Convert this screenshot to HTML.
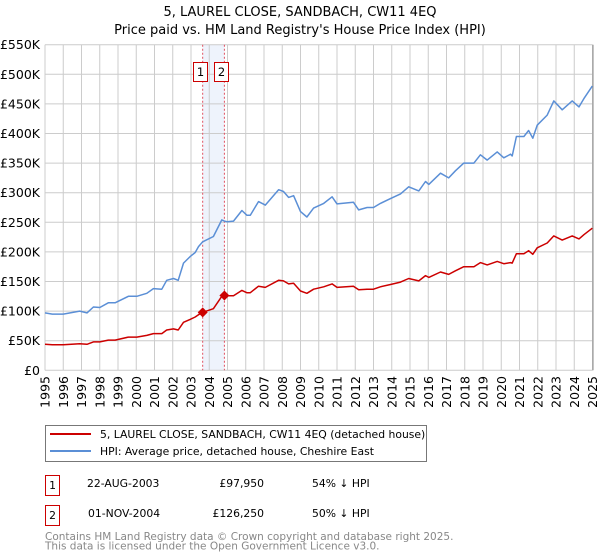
<!DOCTYPE html>
<html><head><meta charset="utf-8"><style>
body{margin:0;background:#fff;}
svg{display:block;font-family:"DejaVu Sans","Liberation Sans",sans-serif;}
</style></head><body>
<svg id="chart" width="600" height="560" viewBox="0 0 600 560">
<text x="300" y="16" text-anchor="middle" font-size="13">5, LAUREL CLOSE, SANDBACH, CW11 4EQ</text>
<text x="300" y="34" text-anchor="middle" font-size="13">Price paid vs. HM Land Registry's House Price Index (HPI)</text>
<g id="grid"></g>
<g id="marks"></g>
<g id="axes"></g>
<g>
<rect x="45.5" y="425.5" width="381" height="36" fill="#fff" stroke="#777"/>
<line x1="50" y1="434" x2="91" y2="434" stroke="#cc0000" stroke-width="2"/>
<text x="100" y="438" font-size="10.8">5, LAUREL CLOSE, SANDBACH, CW11 4EQ (detached house)</text>
<line x1="50" y1="451" x2="91" y2="451" stroke="#5b8fd6" stroke-width="2"/>
<text x="100" y="455" font-size="10.8">HPI: Average price, detached house, Cheshire East</text>
</g>
<g font-size="10.8">
<rect x="45.5" y="475.5" width="14" height="20" fill="#fff" stroke="#cc0000"/>
<text x="52.5" y="489" text-anchor="middle">1</text>
<text x="87" y="487">22-AUG-2003</text>
<text x="264" y="487" text-anchor="end">£97,950</text>
<text x="312" y="487">54% ↓ HPI</text>
<rect x="45.5" y="505.5" width="14" height="20" fill="#fff" stroke="#cc0000"/>
<text x="52.5" y="519" text-anchor="middle">2</text>
<text x="88" y="517">01-NOV-2004</text>
<text x="264" y="517" text-anchor="end">£126,250</text>
<text x="312" y="517">50% ↓ HPI</text>
</g>
<text x="45" y="540" font-size="10.5" fill="#888">Contains HM Land Registry data © Crown copyright and database right 2025.</text>
<text x="45" y="549.5" font-size="10.5" fill="#888">This data is licensed under the Open Government Licence v3.0.</text>
</svg>
<script>
const dates=[1995.0,1995.4,1996.0,1996.9,1997.3,1997.65,1998.0,1998.47,1998.84,1999.57,2000.03,2000.58,2000.94,2001.4,2001.67,2002.04,2002.3,2002.59,2002.95,2003.23,2003.41,2003.64,2004.23,2004.69,2004.83,2004.97,2005.33,2005.79,2006.06,2006.25,2006.7,2007.07,2007.8,2008.07,2008.35,2008.62,2009.0,2009.35,2009.72,2010.27,2010.73,2011.0,2011.9,2012.19,2012.65,2013.0,2013.38,2013.93,2014.48,2014.93,2015.48,2015.85,2016.03,2016.67,2017.12,2017.49,2017.95,2018.5,2018.86,2019.23,2019.78,2020.14,2020.51,2020.6,2020.83,2021.24,2021.5,2021.73,2021.97,2022.52,2022.88,2023.34,2023.89,2024.26,2024.53,2024.99];
const hpiValues=[97,95,95,100,97,107,106,114,114,125,125,130,138,137,152,155,152,181,192,199,209,217,226,254,252,251,252,270,262,262,285,279,305,302,292,295,268,259,274,282,293,281,284,271,275,275,282,290,298,310,303,319,314,333,325,337,350,350,364,355,369,359,365,362,395,395,405,392,414,431,455,440,455,445,459,480];
const priceValues=[44,43,43,45,44,48,48,51,51,56,56,59,62,62,68,70,68,81,86,90,94,98,104,125,126,126,126,135,131,131,142,140,152,151,146,147,134,130,137,141,146,140,142,136,137,137,141,145,149,155,151,160,157,166,162,168,175,175,182,178,184,180,182,181,197,197,202,196,207,215,227,220,227,222,229,240];
const saleDates=[2003.64,2004.83];
const salePrices=[97.95,126.25];
const saleLabels=["1","2"];
const yTicks=[0,50,100,150,200,250,300,350,400,450,500,550];
const yTickLabels=["£0","£50K","£100K","£150K","£200K","£250K","£300K","£350K","£400K","£450K","£500K","£550K"];
const xTicks=[1995,1996,1997,1998,1999,2000,2001,2002,2003,2004,2005,2006,2007,2008,2009,2010,2011,2012,2013,2014,2015,2016,2017,2018,2019,2020,2021,2022,2023,2024,2025];

const NS="http://www.w3.org/2000/svg";
const X0=45,X1=592.5,Y0=370.3,Y1=44.7;
function xs(t){return X0+(t-1995)/30*(X1-X0);}
function ys(v){return Y0-v/550*(Y0-Y1);}
function mk(tag,attrs,parent){const e=document.createElementNS(NS,tag);for(const k in attrs)e.setAttribute(k,attrs[k]);parent.appendChild(e);return e;}
const grid=document.getElementById('grid'),marks=document.getElementById('marks'),axes=document.getElementById('axes');

let band=mk('rect',{x:xs(saleDates[0]),y:Y1,width:xs(saleDates[1])-xs(saleDates[0]),height:Y0-Y1,fill:'#eef3fc'},grid);



yTicks.forEach((v,i)=>{
  let l=mk('line',{x1:X0,x2:X1,y1:ys(v),y2:ys(v),stroke:'#cccccc','stroke-width':1},grid);
  
  
  let t=mk('text',{x:40,y:ys(v)+4.5,'text-anchor':'end','font-size':12.5},axes);
  t.textContent=yTickLabels[i];
  
  
});
xTicks.forEach(yr=>{
  let l=mk('line',{x1:xs(yr),x2:xs(yr),y1:Y1,y2:Y0,stroke:'#cccccc','stroke-width':1},grid);
  
  
  let t=mk('text',{x:0,y:0,'text-anchor':'end','font-size':12.5,transform:`translate(${xs(yr)+4.5},376) rotate(-90)`},axes);
  t.textContent=yr;
  
  
});
let rl=mk('line',{x1:X1+0.5,x2:X1+0.5,y1:Y1,y2:Y0,stroke:'#888','stroke-width':1},grid);



saleDates.forEach((d,i)=>{
  let l=mk('line',{x1:xs(d),x2:xs(d),y1:Y1,y2:Y0,stroke:'#e05060','stroke-width':1,'stroke-dasharray':'2,2'},marks);
  
  
});

function path(vals){return dates.map((d,i)=>(i?'L':'M')+xs(d).toFixed(1)+','+ys(vals[i]).toFixed(1)).join('');}
let hp=mk('path',{d:path(hpiValues),fill:'none',stroke:'#5b8fd6','stroke-width':1.5,'stroke-linejoin':'round'},marks);


let pp=mk('path',{d:path(priceValues),fill:'none',stroke:'#cc0000','stroke-width':1.5,'stroke-linejoin':'round'},marks);



saleDates.forEach((d,i)=>{
  const cx=xs(d),cy=ys(salePrices[i]);
  let p=mk('path',{d:`M${cx},${cy-5}L${cx+5},${cy}L${cx},${cy+5}L${cx-5},${cy}Z`,fill:'#cc0000'},marks);
  
  
  const bx=Math.round(cx-10)+0.5;
  let r=mk('rect',{x:bx,y:62.5,width:14,height:19,fill:'#fff',stroke:'#cc0000'},marks);
  
  
  let t=mk('text',{x:bx+7,y:76,'text-anchor':'middle','font-size':11.5},marks);
  t.textContent=saleLabels[i];
  
  
});
</script>
</body></html>
